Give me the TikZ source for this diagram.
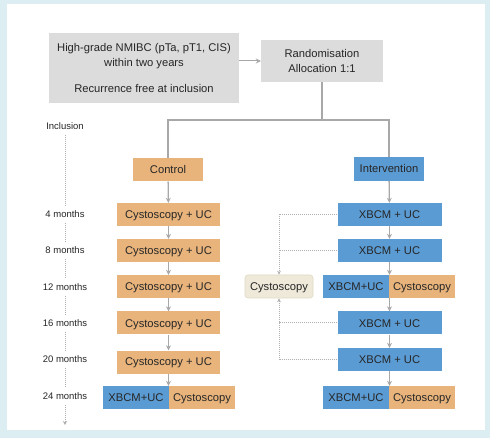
\documentclass[tikz,border=0pt]{standalone}
\usepackage{fontspec}
\setmainfont{Liberation Sans}
\usetikzlibrary{arrows.meta,calc}
\definecolor{bgblue}{HTML}{DDEEF3}
\definecolor{graybox}{HTML}{DCDCDC}
\definecolor{orangebox}{HTML}{E8B47C}
\definecolor{bluebox}{HTML}{5B9BD3}
\definecolor{beigebox}{HTML}{EFE9DA}
\definecolor{beigeedge}{HTML}{E0D8C4}
\definecolor{linegray}{HTML}{A8A8A8}
\definecolor{dotgray}{HTML}{B0B0B0}
\definecolor{txt}{HTML}{262626}
\tikzset{
  box/.style={draw=none, inner sep=0pt, text=txt, font=\fontsize{11.2}{15}\selectfont, align=center},
  one/.style={box, text height=9pt, text depth=1pt},
  greybox/.style={box, fill=graybox},
  ctrlbox/.style={one, fill=orangebox, minimum width=103pt, minimum height=23pt},
  intbox/.style={one, fill=bluebox, minimum width=104pt, minimum height=23pt},
  halfblue/.style={one, fill=bluebox, minimum width=66pt, minimum height=23pt},
  halforange/.style={one, fill=orangebox, minimum width=66pt, minimum height=23pt},
  armbox/.style={one, minimum width=70pt, minimum height=23pt},
  cystbox/.style={one, fill=beigebox, draw=beigeedge, line width=0.6pt, rounded corners=3pt, minimum width=68pt, minimum height=23pt},
  lbl/.style={text=txt, font=\fontsize{9.5}{11}\selectfont, inner sep=3pt},
  tree/.style={draw=linegray, line width=1.6pt},
  arr/.style={draw=linegray, line width=1.3pt, -{Stealth[length=5pt,width=5pt]}},
  dots/.style={draw=dotgray, line width=1pt, dash pattern=on 1pt off 1pt},
  dotarr/.style={dots, -{Stealth[length=4pt,width=4pt]}}
}
\begin{document}
\begin{tikzpicture}[x=1pt,y=-1pt]
\useasboundingbox (0,0) rectangle (490,438);
\fill[bgblue] (0,0) rectangle (490,438);
\fill[white] (7,4) rectangle (485,430);

% top boxes
\node[greybox, minimum width=190pt, minimum height=70pt] (elig) at (144,68)
  {High-grade NMIBC (pTa, pT1, CIS)\\within two years\\[11pt]Recurrence free at inclusion};
\node[greybox, minimum width=122pt, minimum height=42pt] (rand) at (322,61)
  {Randomisation\\Allocation 1:1};
\draw[arr, line width=1pt] (elig.east |- rand.west) -- (rand.west);

% arms
\node[armbox, fill=orangebox] (control) at (168,170) {Control};
\node[armbox, fill=bluebox, minimum height=24pt] (interv) at (389,169) {Intervention};
\coordinate (split) at (322,120);
\draw[tree] (rand.south) -- (split);
\draw[tree] (split) -| (control.north);
\draw[tree] (split) -| (interv.north);

% time labels
\node[lbl] (tinc) at (65,126) {Inclusion};
\node[lbl] (t4) at (65,214) {4 months};
\node[lbl] (t8) at (65,250) {8 months};
\node[lbl] (t12) at (65,287) {12 months};
\node[lbl] (t16) at (65,323) {16 months};
\node[lbl] (t20) at (65,359) {20 months};
\node[lbl] (t24) at (65,396) {24 months};
\coordinate (tend) at (65,425);
\draw[dots, shorten <=2pt, shorten >=2pt] (tinc) -- (t4);
\draw[dots, shorten <=2pt, shorten >=2pt] (t4) -- (t8);
\draw[dots, shorten <=2pt, shorten >=2pt] (t8) -- (t12);
\draw[dots, shorten <=2pt, shorten >=2pt] (t12) -- (t16);
\draw[dots, shorten <=2pt, shorten >=2pt] (t16) -- (t20);
\draw[dots, shorten <=2pt, shorten >=2pt] (t20) -- (t24);
\draw[dotarr, shorten <=2pt] (t24) -- (tend);

% control column
\node[ctrlbox] (c4) at (168.5,214.5) {Cystoscopy + UC};
\node[ctrlbox] (c8) at (168.5,250.5) {Cystoscopy + UC};
\node[ctrlbox] (c12) at (168.5,286.5) {Cystoscopy + UC};
\node[ctrlbox] (c16) at (168.5,323) {Cystoscopy + UC};
\node[ctrlbox] (c20) at (168.5,362) {Cystoscopy + UC};
\node[halfblue] (c24a) at (136,397.5) {XBCM+UC};
\node[halforange] (c24b) at (202,397.5) {Cystoscopy};
\draw[arr] (control) -- (c4);
\draw[arr] (c4) -- (c8);
\draw[arr] (c8) -- (c12);
\draw[arr] (c12) -- (c16);
\draw[arr] (c16) -- (c20);
\draw[arr] (c20.south) -- (c20.south |- c24b.north);

% intervention column
\node[intbox] (i4) at (389.5,214.5) {XBCM + UC};
\node[intbox] (i8) at (389.5,250.5) {XBCM + UC};
\node[halfblue] (i12a) at (356,286.5) {XBCM+UC};
\node[halforange] (i12b) at (422,286.5) {Cystoscopy};
\node[intbox] (i16) at (389.5,323) {XBCM + UC};
\node[intbox] (i20) at (389.5,359.5) {XBCM + UC};
\node[halfblue] (i24a) at (356,397.5) {XBCM+UC};
\node[halforange] (i24b) at (422,397.5) {Cystoscopy};
\draw[arr] (interv) -- (i4);
\draw[arr] (i4) -- (i8);
\draw[arr] (i8.south) -- (i8.south |- i12a.north);
\draw[arr] (i8.south |- i12a.south) -- (i16.north);
\draw[arr] (i16) -- (i20);
\draw[arr] (i20.south) -- (i20.south |- i24a.north);

% cystoscopy side box
\node[cystbox] (cyst) at (279,286.5) {Cystoscopy};
\draw[dotarr] (i4.west) -| (cyst.north);
\draw[dots] (i8.west) -- (i8.west -| cyst.north);
\draw[dotarr] (i20.west) -| (cyst.south);
\draw[dots] (i16.west) -- (i16.west -| cyst.south);
\end{tikzpicture}
\end{document}
